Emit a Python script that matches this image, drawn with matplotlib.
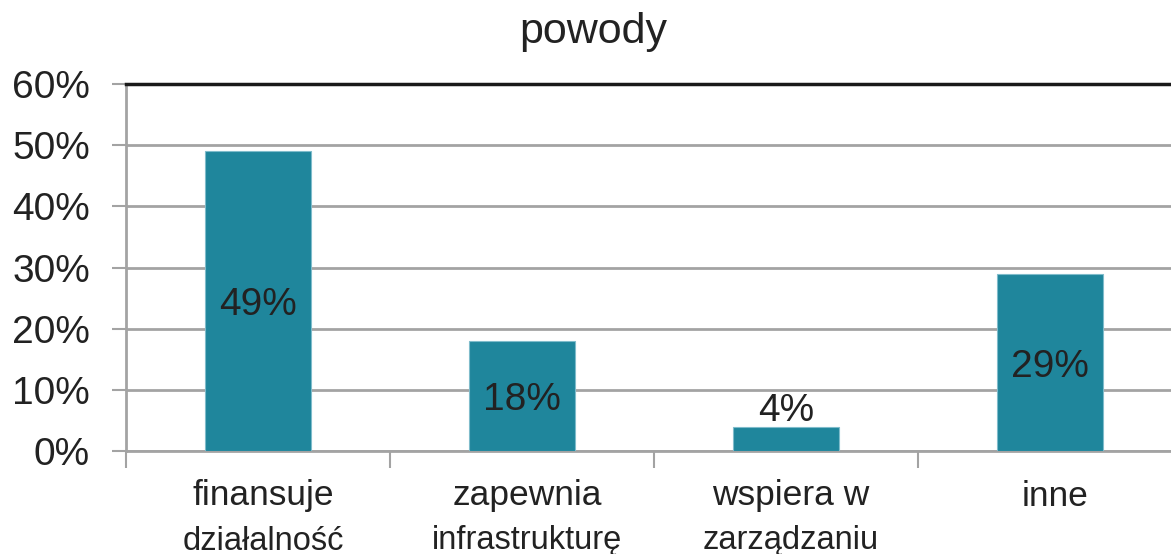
from matplotlib import pyplot as plt
from matplotlib.ticker import FuncFormatter
import numpy as np

plt.rcParams['font.family'] = ['Liberation Sans', 'DejaVu Sans']

title = "powody"
labels_top = ["finansuje", "zapewnia", "wspiera w", "inne"]
labels_bottom = ["działalność", "infrastrukturę", "zarządzaniu", ""]
values = [49, 18, 4, 29]
yticks = [0, 10, 20, 30, 40, 50, 60]

teal = '#1f869c'
grey = '#a3a3a3'

fig = plt.figure(figsize=(11.71, 5.54), dpi=100)
ax = fig.add_axes([126 / 1171, 103 / 554, 1056 / 1171, 367 / 554])

x = np.arange(len(values))
bars = ax.bar(x, values, width=0.4, color=teal, edgecolor='#7fbccb', linewidth=0.8, zorder=3)

ax.set_xlim(-0.5, 3.5)
ax.set_ylim(0, 60)
ax.set_yticks(yticks)
ax.yaxis.set_major_formatter(FuncFormatter(lambda v, p: f"{v:.0f}%"))
ax.yaxis.grid(True, color=grey, linewidth=2, zorder=0)
ax.tick_params(axis='y', labelsize=28, length=10, width=1.5, color=grey, pad=16, labelcolor='#222222')

ax.set_xticks(np.arange(-0.5, 4.0, 1.0))
ax.set_xticklabels([])
ax.tick_params(axis='x', length=12, width=1.5, color=grey)

for s in ['left', 'bottom']:
    ax.spines[s].set_color(grey)
    ax.spines[s].set_linewidth(2)
ax.spines['right'].set_visible(False)
ax.spines['top'].set_color('#1a1a1a')
ax.spines['top'].set_linewidth(2.5)

for b, v in zip(bars, values):
    cx = b.get_x() + b.get_width() / 2
    if v < 10:
        ax.text(cx, v - 0.4, f"{v}%", ha='center', va='bottom', fontsize=28, color='#222222', zorder=4)
    else:
        ax.text(cx, v / 2 - 0.7, f"{v}%", ha='center', va='center', fontsize=28, color='#222222', zorder=4)

for i, (t1, t2) in enumerate(zip(labels_top, labels_bottom)):
    tx = ax.transData.transform((i, 0))[0]
    xf = fig.transFigure.inverted().transform((tx + 5, 0))[0]
    fig.text(xf, 1 - 496 / 554, t1, ha='center', va='center', fontsize=25.5, color='#222222')
    if t2:
        fig.text(xf, 1 - 541 / 554, t2, ha='center', va='center', fontsize=23.5, color='#222222')

fig.text(593 / 1171, 1 - 32 / 554, title, ha='center', va='center', fontsize=31, color='#222222')

fig.savefig("out.png", dpi=100)
